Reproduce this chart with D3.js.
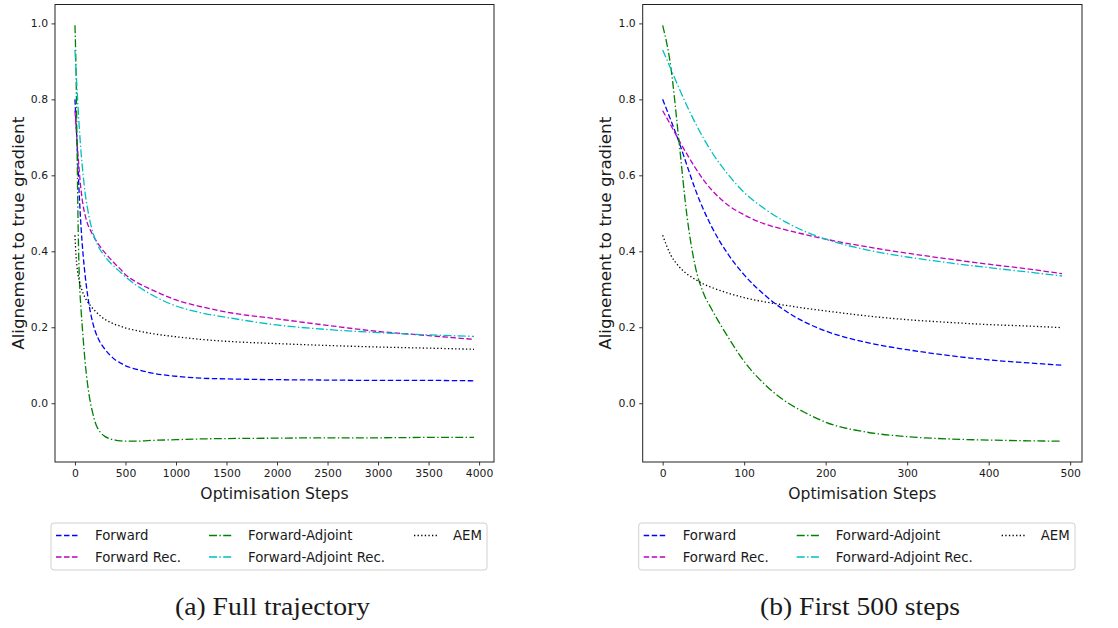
<!DOCTYPE html>
<html>
<head>
<meta charset="utf-8">
<script src="https://cdn.jsdelivr.net/npm/d3@7"></script>
<style>
  html, body { margin: 0; padding: 0; background: #fff; }
  svg { display: block; }
  text { font-family: "DejaVu Sans", sans-serif; fill: #1a1a1a; }
</style>
</head>
<body>
<svg id="chart" width="1118" height="628"></svg>
<script>
// ---- data ----
const steps = [0,10,20,30,40,50,60,80,100,125,150,175,200,250,300,350,400,450,490,600,750,1000,1250,1500,2000,2500,3000,3500,3950];
const forward = [0.800,0.745,0.688,0.625,0.563,0.510,0.465,0.393,0.338,0.285,0.244,0.213,0.190,0.160,0.141,0.126,0.114,0.106,0.100,0.090,0.080,0.071,0.066,0.064,0.062,0.061,0.060,0.060,0.059];
const forwardRec = [0.770,0.732,0.692,0.655,0.620,0.588,0.562,0.522,0.496,0.472,0.457,0.444,0.432,0.412,0.395,0.380,0.366,0.353,0.341,0.320,0.300,0.272,0.254,0.240,0.222,0.205,0.189,0.178,0.168];
const forwardAdjoint = [0.995,0.885,0.690,0.490,0.360,0.290,0.248,0.175,0.110,0.050,0.006,-0.025,-0.050,-0.076,-0.088,-0.094,-0.097,-0.099,-0.100,-0.100,-0.098,-0.096,-0.094,-0.093,-0.092,-0.091,-0.091,-0.090,-0.090];
const forwardAdjointRec = [0.930,0.880,0.830,0.782,0.738,0.698,0.662,0.603,0.555,0.512,0.478,0.452,0.432,0.404,0.385,0.370,0.357,0.345,0.335,0.312,0.287,0.256,0.238,0.226,0.206,0.194,0.186,0.180,0.176];
const aem = [0.442,0.390,0.360,0.340,0.326,0.314,0.305,0.290,0.278,0.267,0.258,0.250,0.243,0.230,0.220,0.213,0.207,0.203,0.199,0.192,0.184,0.175,0.168,0.163,0.157,0.152,0.148,0.145,0.142];

const seriesNames = ["Forward", "Forward Rec.", "Forward-Adjoint", "Forward-Adjoint Rec.", "AEM"];
const seriesValues = [forward, forwardRec, forwardAdjoint, forwardAdjointRec, aem];
const seriesColors = ["#0000ff", "#bf00bf", "#008000", "#00bfbf", "#000000"];
const seriesDash = ["5.5,2.5", "5.5,2.5", "8,2.4,1.4,2.4", "8,2.4,1.4,2.4", "1.3,2.3"];

const yTicks = [0.0, 0.2, 0.4, 0.6, 0.8, 1.0];
const xTicksFull = [0, 500, 1000, 1500, 2000, 2500, 3000, 3500, 4000];
const xTicksFirst = [0, 100, 200, 300, 400, 500];
const captions = ["(a) Full trajectory", "(b) First 500 steps"];
const xLabel = "Optimisation Steps";
const yLabel = "Alignement to true gradient";

// ---- drawing ----
const svg = d3.select("#chart");
const plotTop = 4.5, plotBottom = 462;

function padded(lo, hi) { const m = (hi - lo) * 0.05; return [lo - m, hi + m]; }

function panel(opts) {
  const { left, right, maxStep, xTicks, caption, captionWidth } = opts;
  const idx = steps.map((s, i) => i).filter(i => steps[i] <= maxStep);
  const xs = idx.map(i => steps[i]);
  const x = d3.scaleLinear().domain(padded(d3.min(xs), d3.max(xs))).range([left, right]);
  const y = d3.scaleLinear().domain(padded(-0.1, 0.995)).range([plotBottom, plotTop]);

  const g = svg.append("g");

  const line = d3.line().x(d => x(d[0])).y(d => y(d[1])).curve(d3.curveMonotoneX);
  seriesValues.forEach((vals, k) => {
    g.append("path")
      .datum(idx.map(i => [steps[i], vals[i]]))
      .attr("d", line)
      .attr("fill", "none")
      .attr("stroke", seriesColors[k])
      .attr("stroke-width", 1.3)
      .attr("stroke-dasharray", seriesDash[k]);
  });

  g.append("rect").attr("x", left).attr("y", plotTop).attr("width", right - left).attr("height", plotBottom - plotTop)
    .attr("fill", "none").attr("stroke", "#222").attr("stroke-width", 1);

  const xAxis = d3.axisBottom(x).tickValues(xTicks).tickSize(3.5).tickPadding(3.5).tickFormat(d3.format("d"));
  const gx = g.append("g").attr("transform", `translate(0,${plotBottom})`).call(xAxis);
  const yAxis = d3.axisLeft(y).tickValues(yTicks).tickSize(3.5).tickPadding(3.5).tickFormat(d3.format(".1f"));
  const gy = g.append("g").attr("transform", `translate(${left},0)`).call(yAxis);
  [gx, gy].forEach(a => {
    a.select(".domain").remove();
    a.selectAll(".tick line").attr("stroke", "#222").attr("stroke-width", 0.9);
    a.selectAll(".tick text").style("font-family", "DejaVu Sans").style("font-size", "10.8px").attr("fill", "#222");
  });

  g.append("text").attr("x", (left + right) / 2).attr("y", 499).attr("text-anchor", "middle")
    .style("font-size", "15.6px").text(xLabel);
  g.append("text").attr("transform", `translate(${left - 31.5},${(plotTop + plotBottom) / 2}) rotate(-90)`)
    .attr("text-anchor", "middle").style("font-size", "15.8px")
    .attr("textLength", 233).attr("lengthAdjust", "spacingAndGlyphs").text(yLabel);

  const lx = left - 4, ly = 523, lw = right - left - 3, lh = 47;
  const lg = g.append("g");
  lg.append("rect").attr("x", lx).attr("y", ly).attr("width", lw).attr("height", lh)
    .attr("rx", 3).attr("fill", "#fff").attr("stroke", "#d0d0d0").attr("stroke-width", 1);
  const colOffsets = [0, 153, 358];
  const rowY = [535.5, 557];
  seriesNames.forEach((name, k) => {
    const col = Math.floor(k / 2), row = k % 2;
    const tx = lx + 44 + colOffsets[col];
    const yy = rowY[row];
    lg.append("line").attr("x1", tx - 39).attr("x2", tx - 15).attr("y1", yy).attr("y2", yy)
      .attr("stroke", seriesColors[k]).attr("stroke-width", 1.3).attr("stroke-dasharray", seriesDash[k]);
    lg.append("text").attr("x", tx).attr("y", yy + 4.8).style("font-size", "13.3px").text(name);
  });

  g.append("text").attr("x", opts.captionX).attr("y", 615).attr("text-anchor", "middle")
    .style("font-family", "Liberation Serif, serif").style("font-size", "24.5px").attr("fill", "#111")
    .attr("textLength", captionWidth).attr("lengthAdjust", "spacingAndGlyphs").text(caption);
}

panel({ left: 55, right: 494, maxStep: 4000, xTicks: xTicksFull, caption: captions[0], captionX: 272.5, captionWidth: 195 });
panel({ left: 642.7, right: 1082, maxStep: 500, xTicks: xTicksFirst, caption: captions[1], captionX: 860, captionWidth: 200 });
</script>
</body>
</html>
